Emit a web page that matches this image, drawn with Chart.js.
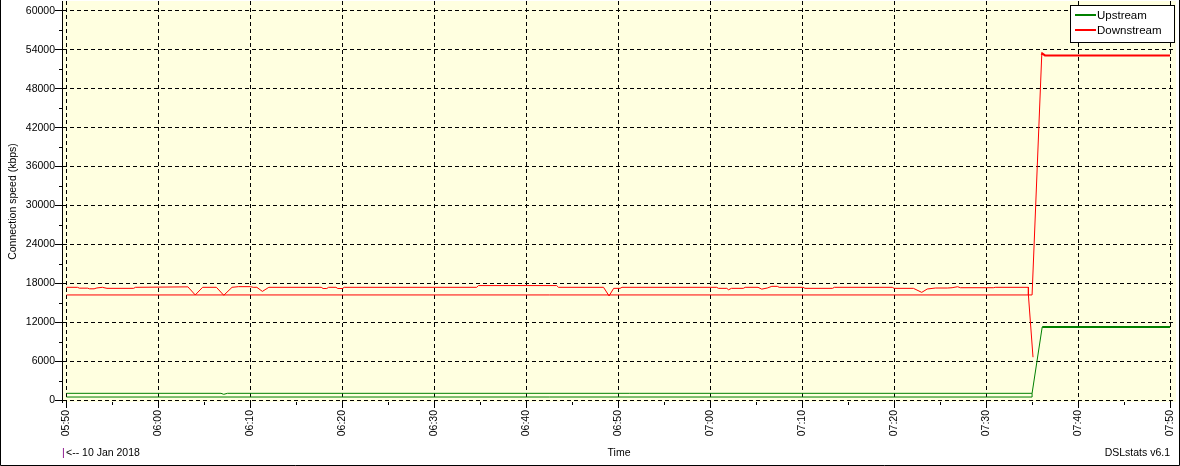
<!DOCTYPE html>
<html lang="en">

<head>
    <meta charset="UTF-8">
    <title>DSLstats</title>
    <script src="https://cdnjs.cloudflare.com/ajax/libs/Chart.js/4.4.1/chart.umd.min.js"></script>
    <style>
        html,
        body {
            margin: 0;
            background: #fff;
        }

        #chart {
            display: block;
        }
    </style>
</head>

<body>
    <canvas id="chart" width="1180" height="466"></canvas>
</body>

<script>
    // x values are minutes after 05:50
    const startTime = '05:50';
    const xTicks = [0, 10, 20, 30, 40, 50, 60, 70, 80, 90, 100, 110, 120];
    const yTicks = [0, 6000, 12000, 18000, 24000, 30000, 36000, 42000, 48000, 54000, 60000];

    // Upstream
    const upTimes = [0, 16.8, 17.1, 17.5, 105.0, 106.1, 120];
    const upValues = [1030, 1030, 880, 1030, 1030, 11250, 11250];
    const upTimes2 = [0, 105.0, 105.0];
    const upValues2 = [460, 460, 1030];

    // Downstream
    const downTimes = [
        0, 1.2, 1.4, 2.3, 2.5, 3.0, 3.3, 3.9, 4.4, 7.3, 7.5,
        13.2, 14.0, 14.8, 16.3, 17.1, 18.0, 18.7, 20.0, 20.3, 20.7, 21.3, 22.0,
        27.7, 27.9, 28.3, 28.5, 29.3, 29.5, 30.0, 30.2,
        44.6, 44.8, 53.3, 53.5, 58.4, 59.0, 59.5, 60.2, 60.4,
        70.7, 70.9, 71.8, 72.0, 72.3, 73.6, 73.8, 75.2, 75.6, 76.2, 76.7, 77.3, 77.5, 80.1, 80.3, 83.3, 83.5,
        89.8, 90.0, 92.1, 93.0, 93.6, 94.5, 95.8, 96.3, 96.9, 97.2, 100.8, 101.0, 104.6, 104.6, 105.1
    ];
    const downValues = [
        17380, 17380, 17250, 17250, 17150, 17150, 17280, 17380, 17220, 17220, 17380,
        17450, 16200, 17380, 17380, 16150, 17380, 17480, 17480, 17380, 17380, 16750, 17380,
        17380, 17200, 17200, 17380, 17380, 17200, 17200, 17380,
        17380, 17650, 17650, 17380, 17380, 16050, 17220, 17220, 17380,
        17380, 17220, 17220, 17000, 17220, 17220, 17380, 17380, 17100, 17270, 17530, 17530, 17380, 17380, 17220, 17220, 17380,
        17380, 17220, 17220, 16600, 17120, 17270, 17270, 17320, 17470, 17320, 17320, 17380, 17380, 16200, 6600
    ];
    const downTimes2 = [0, 105.0, 106.05, 106.1, 106.4, 120];
    const downValues2 = [16200, 16200, 53200, 53450, 53150, 53150];

    function points(xs, ys) {
        return xs.map((x, i) => ({ x: x, y: ys[i] }));
    }

    function timeLabel(m) {
        let p = startTime.split(':');
        let t = parseInt(p[0]) * 60 + parseInt(p[1]) + m;
        let h = Math.floor(t / 60), mm = t % 60;
        return String(h).padStart(2, '0') + ':' + String(mm).padStart(2, '0');
    }

    const fontFamily = "'Liberation Sans', Arial, sans-serif";
    const thickAfterJump = {
        borderWidth: ctx => ctx.p0.parsed.x >= 106 ? 2 : undefined
    };

    const backgroundPlugin = {
        id: 'background',
        beforeDraw(chart) {
            let { ctx, chartArea: a } = chart;
            ctx.save();
            ctx.fillStyle = '#fff';
            ctx.fillRect(0, 0, chart.width, chart.height);
            ctx.fillStyle = '#FFFFE0';
            ctx.fillRect(a.left, a.top, a.right - a.left, a.bottom - a.top);
            ctx.restore();
        }
    };

    const extrasPlugin = {
        id: 'extras',
        afterDraw(chart) {
            let { ctx, chartArea: a } = chart;
            let xs = chart.scales.x, ys = chart.scales.y;
            ctx.save();
            ctx.strokeStyle = '#000';
            ctx.lineWidth = 1;
            ctx.beginPath();
            // minor ticks
            for (let v = 3000; v < 60000; v += 6000) {
                let y = Math.round(ys.getPixelForValue(v)) + 0.5;
                ctx.moveTo(a.left - 3, y);
                ctx.lineTo(a.left, y);
            }
            for (let m = 5; m < 120; m += 10) {
                let x = Math.round(xs.getPixelForValue(m)) + 0.5;
                ctx.moveTo(x, a.bottom);
                ctx.lineTo(x, a.bottom + 3);
            }
            // outer frame
            ctx.moveTo(0.5, 0);
            ctx.lineTo(0.5, 465.5);
            ctx.lineTo(1179.5, 465.5);
            ctx.lineTo(1179.5, 0);
            ctx.stroke();

            // legend box
            ctx.fillStyle = '#fff';
            ctx.fillRect(1070.5, 5.5, 104, 37);
            ctx.strokeRect(1070.5, 5.5, 104, 37);
            let items = chart.data.datasets.filter(d => d.label);
            ctx.font = '11.5px ' + fontFamily;
            ctx.textBaseline = 'middle';
            items.forEach((d, i) => {
                let y = 15 + i * 15;
                ctx.strokeStyle = d.borderColor;
                ctx.lineWidth = 2;
                ctx.beginPath();
                ctx.moveTo(1075, y);
                ctx.lineTo(1096, y);
                ctx.stroke();
                ctx.fillStyle = '#000';
                ctx.fillText(d.label, 1097, y + 0.5);
            });

            // footer texts
            ctx.font = '10.5px ' + fontFamily;
            ctx.fillStyle = '#800080';
            ctx.textAlign = 'left';
            ctx.fillText('|', 62, 453);
            ctx.fillStyle = '#000';
            ctx.fillText('<-- 10 Jan 2018', 66, 453);
            ctx.textAlign = 'right';
            ctx.fillText('DSLstats v6.1', 1170, 453);
            ctx.restore();
        }
    };

    window.onload = function () {
        Chart.defaults.font.family = fontFamily;
        Chart.defaults.font.size = 10.5;
        Chart.defaults.color = '#000';

        let ctx = document.getElementById('chart').getContext('2d');
        new Chart(ctx, {
            type: 'line',
            data: {
                datasets: [{
                    label: 'Upstream',
                    data: points(upTimes, upValues),
                    borderColor: '#008000',
                    borderWidth: 1,
                    segment: thickAfterJump
                }, {
                    label: '',
                    data: points(upTimes2, upValues2),
                    borderColor: '#008000',
                    borderWidth: 1
                }, {
                    label: 'Downstream',
                    data: points(downTimes, downValues),
                    borderColor: '#FF0000',
                    borderWidth: 1
                }, {
                    label: '',
                    data: points(downTimes2, downValues2),
                    borderColor: '#FF0000',
                    borderWidth: 1,
                    segment: thickAfterJump
                }]
            },
            options: {
                responsive: false,
                animation: false,
                events: [],
                elements: {
                    point: { radius: 0 },
                    line: { tension: 0, fill: false }
                },
                layout: {
                    padding: { top: 1, right: 4, bottom: 4, left: 0 }
                },
                plugins: {
                    legend: { display: false },
                    tooltip: { enabled: false }
                },
                scales: {
                    x: {
                        type: 'linear',
                        min: -0.49,
                        max: 120.65,
                        afterBuildTicks: s => { s.ticks = xTicks.map(v => ({ value: v })); },
                        afterFit: s => {
                            s.height = 60;
                            s.paddingLeft = 0;
                            s.paddingRight = 0;
                        },
                        ticks: {
                            autoSkip: false,
                            minRotation: 90,
                            maxRotation: 90,
                            padding: 2,
                            callback: v => timeLabel(v)
                        },
                        grid: {
                            color: '#000',
                            lineWidth: 1,
                            tickLength: 6,
                            tickColor: '#000',
                            tickBorderDash: []
                        },
                        border: { display: false, dash: [4, 3] },
                        title: {
                            display: true,
                            text: 'Time',
                            padding: { top: 0, bottom: 3 }
                        }
                    },
                    y: {
                        min: -308,
                        max: 61540,
                        afterBuildTicks: s => { s.ticks = yTicks.map(v => ({ value: v })); },
                        afterFit: s => {
                            s.width = 62;
                            s.paddingTop = 0;
                            s.paddingBottom = 0;
                        },
                        ticks: {
                            padding: 0,
                            callback: v => String(v)
                        },
                        grid: {
                            color: '#000',
                            lineWidth: 1,
                            tickLength: 7,
                            tickColor: '#000',
                            tickBorderDash: []
                        },
                        border: { display: true, color: '#000', width: 1, dash: [4, 3] },
                        title: {
                            display: true,
                            text: 'Connection speed (kbps)',
                            padding: { top: 7, bottom: 0 }
                        }
                    }
                }
            },
            plugins: [backgroundPlugin, extrasPlugin]
        });
    }
</script>

</html>
